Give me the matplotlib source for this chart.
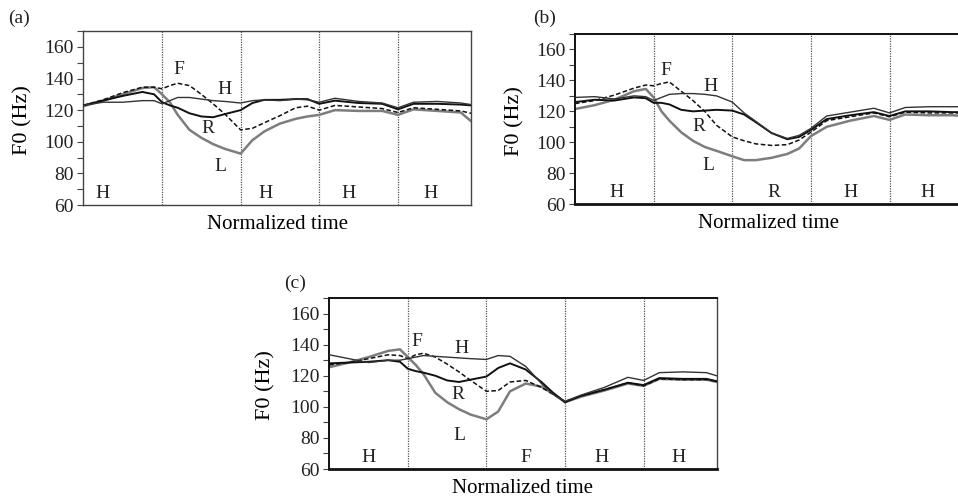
import matplotlib
matplotlib.use("Agg")
import matplotlib.pyplot as plt
from matplotlib.ticker import MultipleLocator

plt.rcParams['font.family'] = ['Liberation Serif', 'DejaVu Serif']
plt.rcParams['text.color'] = '#222222'

# normalized time (one unit per syllable)
t = [0, 0.25, 0.5, 0.75, 0.9, 1.0, 1.1, 1.2, 1.35, 1.5, 1.65, 1.8, 2.0, 2.15,
     2.3, 2.5, 2.7, 2.85, 3.0, 3.2, 3.5, 3.8, 4.0, 4.2, 4.5, 4.8, 4.93]

# panel (a): H H H H H context
a_H = [123, 125, 125, 126, 126, 124, 126, 128, 128, 127, 126, 125.5, 124.5, 126,
       126.5, 126, 127, 126.5, 125, 127.5, 125.5, 124.5, 121.5, 125, 125.5, 124.5, 123.5]
a_R = [123, 126, 129, 131.5, 130, 125, 123, 121.5, 118, 116, 115.5, 117.5, 120, 124.5,
       126.5, 126.5, 127, 127, 124, 126, 124.5, 124, 120.5, 124, 124, 123.5, 123]
a_F = [123, 126.5, 131, 134.5, 134.5, 133.5, 135.5, 137, 135.5, 130, 124, 117.5, 107.5, 108.5,
       112, 116.5, 121.5, 122.5, 120, 123, 122, 121, 118.5, 121.5, 120.5, 119.5, 118]
a_L = [122.5, 126, 130, 134, 134.5, 130, 125, 117, 107.5, 102.5, 98.5, 95.5, 92.5, 101,
       106.5, 111.5, 114.5, 116, 117, 120, 119.5, 119.5, 117, 120.5, 119.5, 118.5, 113]

# panel (b): H H R H H context
b_H = [129, 129.5, 128, 130, 129.5, 127, 129, 131, 131.5, 131.5, 131, 130, 126, 119,
       113.5, 106, 102.5, 104.5, 109, 117, 119.5, 122, 119, 122.5, 123, 123, 123]
b_R = [126, 127.5, 127, 129, 128.5, 125.5, 125.5, 124.5, 121, 120, 120.5, 121, 120.5, 118,
       113, 106, 102, 103.5, 108, 115, 117.5, 119.5, 117, 120, 120, 119.5, 119.5]
b_F = [125, 127, 130.5, 135, 137, 136.5, 138, 139, 133, 127, 120, 111, 103.5, 101,
       99, 98, 98.5, 101.5, 106.5, 114, 116.5, 119, 116.5, 119.5, 119, 119, 119]
b_L = [121.5, 124, 127.5, 133, 134.5, 129, 120, 114, 106.5, 101, 97, 94.5, 91, 88.5,
       88.5, 90, 92.5, 96, 104, 110, 114, 117, 114.5, 118, 117.5, 117.5, 117]

# panel (c): H H F H H context
c_H = [133.5, 131, 128.5, 130, 130, 131, 132, 133, 132.5, 132, 131.5, 131, 130.5, 133,
       132.5, 126, 115, 108, 103.5, 107.5, 112.5, 119, 117, 122, 122.5, 122, 120]
c_R = [128, 128.5, 129, 130, 129, 124.5, 123, 122, 120, 117, 116, 117.5, 119.5, 125,
       128, 124, 116, 109, 103, 107, 111, 115.5, 114, 118.5, 118, 118, 116.5]
c_F = [127, 128.5, 131, 133.5, 133, 131, 133.5, 134.5, 132, 127.5, 122.5, 117, 110, 110.5,
       116, 117, 112.5, 108, 103.5, 107, 111, 115.5, 113.5, 118, 117.5, 117.5, 116.5]
c_L = [125.5, 128.5, 132, 136, 137, 132, 127, 121, 109, 103, 98.5, 95, 92, 97,
       110, 115, 113, 108.5, 103, 106.5, 110.5, 115, 113.5, 118, 117.5, 117.5, 116]

tones_a = ['H', '', 'H', 'H', 'H']
tones_b = ['H', '', 'R', 'H', 'H']
tones_c = ['H', '', 'F', 'H', 'H']

fig = plt.figure(figsize=(9.58, 4.97), dpi=100)


def panel(rect, H, R, F, L, tones, tone_x, tags, letter, letter_xy, ylab_x, heavy=False):
    ax = fig.add_axes(rect)
    ax.plot(t, L, color='#7d7d7d', lw=1.8, zorder=2)
    ax.plot(t, F, color='#111111', lw=1.1, dashes=(3, 1.6), zorder=3)
    ax.plot(t, R, color='#111111', lw=1.4, zorder=3)
    ax.plot(t, H, color='#333333', lw=1.0, zorder=3)
    for k in range(1, 5):
        ax.axvline(k, color='#555555', lw=0.9, ls=(0, (1, 1)), zorder=1)
    for lab, x in zip(tones, tone_x):
        ax.text(x, 67.5, lab, ha='center', va='center', fontsize=14)
    for lab, (x, y) in tags.items():
        ax.text(x, y, lab, ha='center', va='center', fontsize=14)
    ax.set_xlim(0, 4.93)
    ax.set_ylim(60, 170)
    ax.set_xticks([])
    ax.yaxis.set_minor_locator(MultipleLocator(10))
    ax.set_yticks([60, 80, 100, 120, 140, 160])
    ax.tick_params(axis='y', which='both', direction='out', length=4,
                   width=0.8, labelsize=14, pad=3, color='#444444',
                   labelcolor='#222222')
    ax.set_ylabel('F0 (Hz)', fontsize=16)
    ax.yaxis.set_label_coords(ylab_x, 0.49)
    ax.set_xlabel('Normalized time', fontsize=15, labelpad=7)
    for s in ax.spines.values():
        s.set_color('#444444')
        s.set_linewidth(1.0)
    if heavy:
        for side, w in (('bottom', 2.0), ('left', 1.4), ('top', 1.4)):
            ax.spines[side].set_linewidth(w)
            ax.spines[side].set_color('#111111')
    fig.text(letter_xy[0], letter_xy[1], letter, fontsize=14, ha='left', va='center')
    return ax


panel([0.087, 0.5875, 0.4047, 0.350], a_H, a_R, a_F, a_L, tones_a,
      [0.24, 1.5, 2.32, 3.37, 4.42],
      {'F': (1.21, 146), 'H': (1.8, 133), 'R': (1.59, 108.5), 'L': (1.74, 84.5)},
      '(a)', (0.008, 0.963), -0.132)
panel([0.6002, 0.589, 0.4047, 0.3427], b_H, b_R, b_F, b_L, tones_b,
      [0.53, 1.5, 2.53, 3.5, 4.48],
      {'F': (1.15, 146.5), 'H': (1.72, 136.3), 'R': (1.57, 110), 'L': (1.7, 85)},
      '(b)', (0.556, 0.963), -0.129, heavy=True)
panel([0.3437, 0.0563, 0.4044, 0.344], c_H, c_R, c_F, c_L, tones_c,
      [0.5, 1.5, 2.5, 3.47, 4.45],
      {'F': (1.11, 141.8), 'H': (1.68, 137.5), 'R': (1.64, 108.2), 'L': (1.66, 81.8)},
      '(c)', (0.297, 0.43), -0.139, heavy=True)

fig.savefig('out.png', dpi=100)
